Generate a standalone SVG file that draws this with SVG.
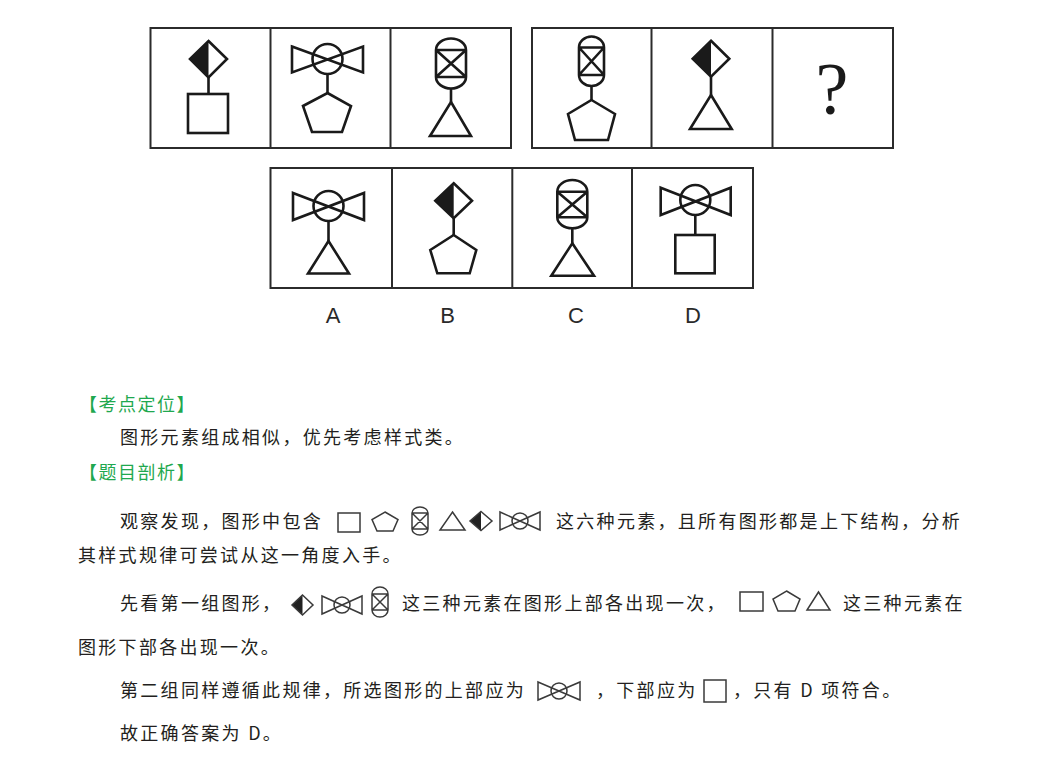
<svg xmlns="http://www.w3.org/2000/svg" width="1053" height="765" viewBox="0 0 1053 765">
<style>
.frame{fill:none;stroke:#2b2b2b;stroke-width:2}
.fig{fill:none;stroke:#1a1a1a;stroke-width:2.6;stroke-linejoin:miter;stroke-linecap:butt}
.fill{fill:#1a1a1a;stroke:none}
.ic{fill:none;stroke:#3a3a3a;stroke-width:1.5}
.icf{fill:#222;stroke:none}
.t{font-family:"Noto Sans CJK SC","Noto Sans",sans-serif;font-size:18px;fill:#231f20;letter-spacing:2.3px}
.h{font-family:"Noto Sans CJK SC","Noto Sans",sans-serif;font-size:18px;fill:#1fa84f;letter-spacing:1.5px}
.lbl{font-family:"Liberation Sans",Arial,sans-serif;font-size:22px;fill:#2a2a2a;text-anchor:middle}
</style>
<rect width="1053" height="765" fill="#ffffff"/>

<!-- Group 1 -->
<g id="group1">
<rect class="frame" x="150.5" y="28" width="360.5" height="120"/>
<line class="frame" x1="270.5" y1="28" x2="270.5" y2="148"/>
<line class="frame" x1="390.5" y1="28" x2="390.5" y2="148"/>
</g>
<g id="g1c1">
<polygon class="fill" points="208.5,41 190,59 208.5,77.5"/>
<polygon class="fig" points="208.5,41 227,59 208.5,77.5 190,59"/>
<line class="fig" x1="208.5" y1="77.5" x2="208.5" y2="94"/>
<rect class="fig" x="188" y="94" width="40" height="39"/>
</g>
<g id="g1c2">
<circle class="fig" cx="327.5" cy="59" r="15"/>
<path class="fig" d="M292,46.5 L363,72.5 L363,46.5 L292,72.5 Z"/>
<line class="fig" x1="327.5" y1="74" x2="327.5" y2="93"/>
<polygon class="fig" points="327.5,93 351,106 342,132 312,132 303,106"/>
</g>
<g id="g1c3">
<path class="fig" d="M436,50 A15,11.5 0 0 1 466,50 L466,77 A15,11.5 0 0 1 436,77 Z M436,50 L466,50 M436,77 L466,77 M436,50 L466,77 M466,50 L436,77"/>
<line class="fig" x1="451" y1="88.5" x2="451" y2="102"/>
<polygon class="fig" points="451,102 471,136 430,136"/>
</g>

<!-- Group 2 -->
<g id="group2">
<rect class="frame" x="532" y="28" width="361" height="120"/>
<line class="frame" x1="651.5" y1="28" x2="651.5" y2="148"/>
<line class="frame" x1="772.5" y1="28" x2="772.5" y2="148"/>
</g>
<g id="g2c1">
<path class="fig" d="M579,47.5 A12.5,11 0 0 1 604,47.5 L604,75 A12.5,11 0 0 1 579,75 Z M579,47.5 L604,47.5 M579,75 L604,75 M579,47.5 L604,75 M604,47.5 L579,75"/>
<line class="fig" x1="591.5" y1="86" x2="591.5" y2="100"/>
<polygon class="fig" points="591.5,100 615,114 608,140 575,140 568,114"/>
</g>
<g id="g2c2">
<polygon class="fill" points="711,40.7 692.7,58.7 711,76.7"/>
<polygon class="fig" points="711,40.7 729.3,58.7 711,76.7 692.7,58.7"/>
<line class="fig" x1="711" y1="76.7" x2="711" y2="95"/>
<polygon class="fig" points="711,95 731.7,129 690,129"/>
</g>
<g id="g2c3">
<text x="832" y="114" font-family="Liberation Serif, serif" font-size="74" fill="#1a1a1a" text-anchor="middle">?</text>
</g>

<!-- Answers -->
<g id="answers">
<rect class="frame" x="270.5" y="168" width="482.5" height="120"/>
<line class="frame" x1="392" y1="168" x2="392" y2="288"/>
<line class="frame" x1="512.3" y1="168" x2="512.3" y2="288"/>
<line class="frame" x1="632" y1="168" x2="632" y2="288"/>
</g>
<g id="optA">
<circle class="fig" cx="328.5" cy="206" r="15"/>
<path class="fig" d="M293,193 L364,220 L364,193 L293,220 Z"/>
<line class="fig" x1="328.5" y1="221" x2="328.5" y2="241"/>
<polygon class="fig" points="328.5,241 349,273.5 308,273.5"/>
</g>
<g id="optB">
<polygon class="fill" points="453.7,183.3 435.3,200.8 453.7,218.3"/>
<polygon class="fig" points="453.7,183.3 472,200.8 453.7,218.3 435.3,200.8"/>
<line class="fig" x1="453.7" y1="218.3" x2="453.7" y2="235"/>
<polygon class="fig" points="453.7,235 476.3,250 469.7,273.3 437.3,273.3 430.3,250"/>
</g>
<g id="optC">
<path class="fig" d="M557.3,191.7 A15,11.7 0 0 1 587.3,191.7 L587.3,217.3 A15,11 0 0 1 557.3,217.3 Z M557.3,191.7 L587.3,191.7 M557.3,217.3 L587.3,217.3 M557.3,191.7 L587.3,217.3 M587.3,191.7 L557.3,217.3"/>
<line class="fig" x1="572.3" y1="228.3" x2="572.3" y2="243.3"/>
<polygon class="fig" points="572.3,243.3 594,275.7 551.3,275.7"/>
</g>
<g id="optD">
<circle class="fig" cx="695.3" cy="200" r="15"/>
<path class="fig" d="M660.7,187.7 L730.7,215 L730.7,187.7 L660.7,215 Z"/>
<line class="fig" x1="695.3" y1="215" x2="695.3" y2="235"/>
<rect class="fig" x="675.3" y="235" width="39.4" height="38.3"/>
</g>
<g id="labels">
<text class="lbl" x="333" y="323">A</text>
<text class="lbl" x="447.5" y="323">B</text>
<text class="lbl" x="576" y="323">C</text>
<text class="lbl" x="693" y="323">D</text>
</g>

<!-- Text -->
<g id="text">
<text class="h" x="79" y="411">【考点定位】</text>
<text class="t" x="120" y="444">图形元素组成相似，优先考虑样式类。</text>
<text class="h" x="79" y="479">【题目剖析】</text>
<text class="t" x="120" y="528">观察发现，图形中包含</text>
<text class="t" x="556" y="528">这六种元素，且所有图形都是上下结构，分析</text>
<text class="t" x="78" y="562">其样式规律可尝试从这一角度入手。</text>
<text class="t" x="120" y="610">先看第一组图形，</text>
<text class="t" x="402" y="610">这三种元素在图形上部各出现一次，</text>
<text class="t" x="843" y="610">这三种元素在</text>
<text class="t" x="78" y="654">图形下部各出现一次。</text>
<text class="t" x="120" y="697">第二组同样遵循此规律，所选图形的上部应为</text>
<text class="t" x="596" y="697">，下部应为</text>
<text class="t" x="733" y="697">，只有 D 项符合。</text>
<text class="t" x="120" y="740">故正确答案为 D。</text>
</g>

<!-- Inline icons -->
<g id="icons-line2">
<rect class="ic" x="338" y="513" width="22" height="19"/>
<polygon class="ic" points="385,512 398,519.5 393,531 377,531 372,519.5"/>
<path class="ic" d="M412,513 A8,6 0 0 1 428,513 L428,529 A8,6 0 0 1 412,529 Z M412,513 L428,513 M412,529 L428,529 M412,513 L428,529 M428,513 L412,529"/>
<polygon class="ic" points="452.5,512 465,530 440,530"/>
<polygon class="icf" points="481,511.5 470,521 481,530.5"/>
<polygon class="ic" points="481,511.5 492,521 481,530.5 470,521"/>
<path class="ic" d="M500,512 L540,530 L540,512 L500,530 Z"/>
<circle class="ic" cx="520" cy="521" r="8"/>
</g>
<g id="icons-line4">
<polygon class="icf" points="302.5,595 292,605 302.5,615"/>
<polygon class="ic" points="302.5,595 313,605 302.5,615 292,605"/>
<path class="ic" d="M322,596 L362,614 L362,596 L322,614 Z"/>
<circle class="ic" cx="342" cy="605" r="8"/>
<path class="ic" d="M372,594 A8,7 0 0 1 388,594 L388,610 A8,7 0 0 1 372,610 Z M372,594 L388,594 M372,610 L388,610 M372,594 L388,610 M388,594 L372,610"/>
<rect class="ic" x="740" y="592" width="23" height="19"/>
<polygon class="ic" points="786.5,591 800,599 795,611 778,611 773,599"/>
<polygon class="ic" points="818.5,592 830,610 807,610"/>
</g>
<g id="icons-line6">
<path class="ic" d="M538,682 L580,700 L580,682 L538,700 Z"/>
<circle class="ic" cx="559" cy="691" r="8"/>
<rect class="ic" x="704" y="680" width="22" height="22"/>
</g>
</svg>
